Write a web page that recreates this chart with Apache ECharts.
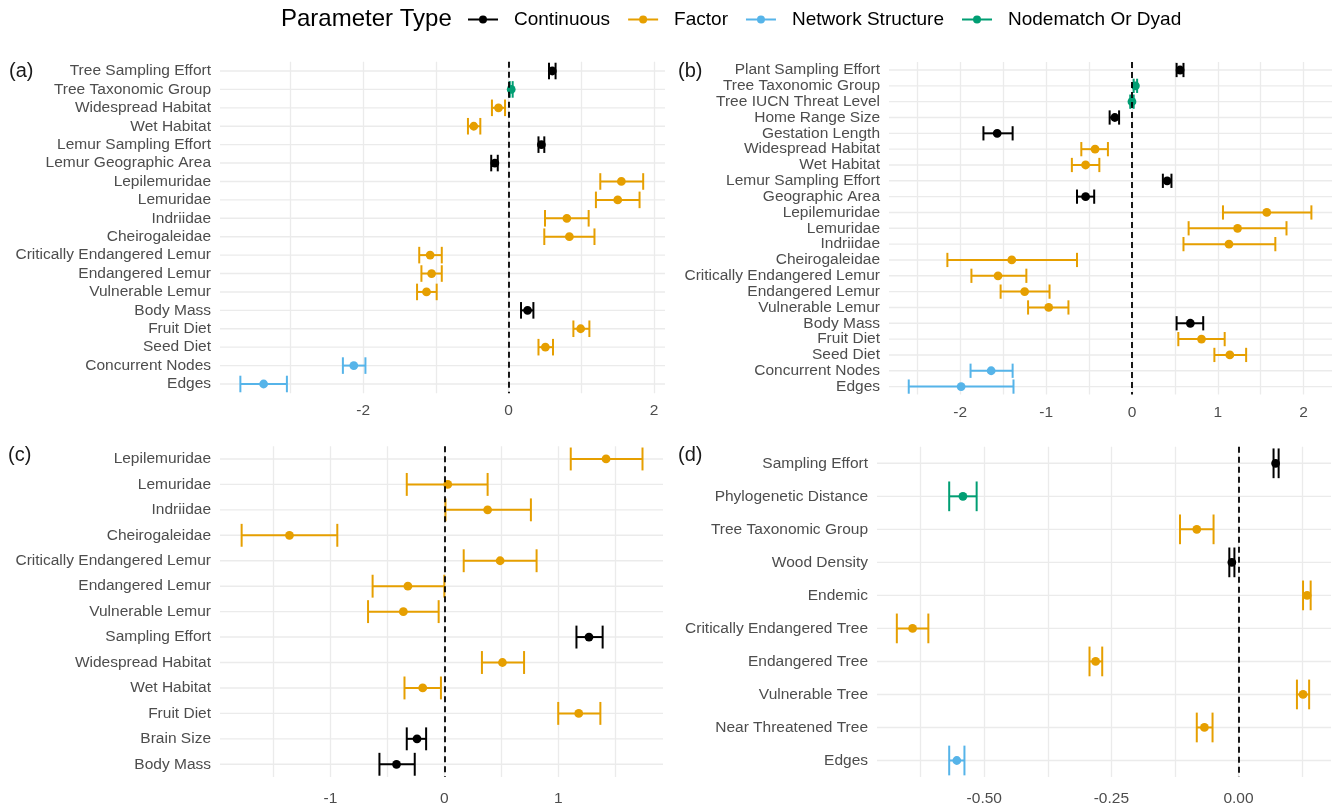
<!DOCTYPE html>
<html>
<head>
<meta charset="utf-8">
<script src="https://cdn.jsdelivr.net/npm/echarts@6/dist/echarts.min.js"></script>
<style>
  html, body { margin: 0; padding: 0; background: #ffffff; }
  #chart { width: 1336px; height: 807px; }
</style>
</head>
<body>
<div id="chart"></div>
<script>
// Parameter types: C = Continuous, F = Factor, S = Network Structure, N = Nodematch Or Dyad
const typeNames = { C: 'Continuous', F: 'Factor', S: 'Network Structure', N: 'Nodematch Or Dyad' };
const typeColors = { C: '#000000', F: '#E69F00', S: '#56B4E9', N: '#009E73' };
const legendOrder = ['C', 'F', 'S', 'N'];

// (a)
const aLabels = ['Tree Sampling Effort', 'Tree Taxonomic Group', 'Widespread Habitat', 'Wet Habitat',
  'Lemur Sampling Effort', 'Lemur Geographic Area', 'Lepilemuridae', 'Lemuridae', 'Indriidae',
  'Cheirogaleidae', 'Critically Endangered Lemur', 'Endangered Lemur', 'Vulnerable Lemur',
  'Body Mass', 'Fruit Diet', 'Seed Diet', 'Concurrent Nodes', 'Edges'];
const aTypes = ['C', 'N', 'F', 'F', 'C', 'C', 'F', 'F', 'F', 'F', 'F', 'F', 'F', 'C', 'F', 'F', 'S', 'S'];
const aEst  = [0.60, 0.035, -0.14, -0.48, 0.45, -0.19, 1.55, 1.50, 0.80, 0.835, -1.08, -1.06, -1.13, 0.26, 0.99, 0.505, -2.13, -3.37];
const aLow  = [0.555, 0.015, -0.23, -0.56, 0.41, -0.24, 1.26, 1.20, 0.50, 0.49, -1.23, -1.20, -1.26, 0.17, 0.89, 0.41, -2.28, -3.69];
const aHigh = [0.645, 0.055, -0.05, -0.39, 0.49, -0.15, 1.85, 1.80, 1.10, 1.18, -0.92, -0.92, -0.99, 0.34, 1.11, 0.61, -1.97, -3.05];
const aTicks = [-2, 0, 2];
const aMinorTicks = [-3, -1, 1];

// (b)
const bLabels = ['Plant Sampling Effort', 'Tree Taxonomic Group', 'Tree IUCN Threat Level', 'Home Range Size',
  'Gestation Length', 'Widespread Habitat', 'Wet Habitat', 'Lemur Sampling Effort', 'Geographic Area',
  'Lepilemuridae', 'Lemuridae', 'Indriidae', 'Cheirogaleidae', 'Critically Endangered Lemur',
  'Endangered Lemur', 'Vulnerable Lemur', 'Body Mass', 'Fruit Diet', 'Seed Diet', 'Concurrent Nodes', 'Edges'];
const bTypes = ['C', 'N', 'N', 'C', 'C', 'F', 'F', 'C', 'C', 'F', 'F', 'F', 'F', 'F', 'F', 'F', 'C', 'F', 'F', 'S', 'S'];
const bEst  = [0.56, 0.04, 0.0, -0.20, -1.57, -0.43, -0.54, 0.41, -0.54, 1.57, 1.23, 1.13, -1.40, -1.56, -1.25, -0.97, 0.68, 0.81, 1.14, -1.64, -1.99];
const bLow  = [0.52, 0.02, -0.02, -0.26, -1.73, -0.59, -0.70, 0.36, -0.64, 1.06, 0.66, 0.60, -2.15, -1.87, -1.53, -1.21, 0.52, 0.54, 0.96, -1.88, -2.60];
const bHigh = [0.60, 0.06, 0.02, -0.15, -1.39, -0.28, -0.38, 0.46, -0.44, 2.09, 1.80, 1.67, -0.64, -1.23, -0.96, -0.74, 0.83, 1.08, 1.33, -1.39, -1.38];
const bTicks = [-2, -1, 0, 1, 2];
const bMinorTicks = [-2.5, -1.5, -0.5, 0.5, 1.5];

// (c)
const cLabels = ['Lepilemuridae', 'Lemuridae', 'Indriidae', 'Cheirogaleidae', 'Critically Endangered Lemur',
  'Endangered Lemur', 'Vulnerable Lemur', 'Sampling Effort', 'Widespread Habitat', 'Wet Habitat',
  'Fruit Diet', 'Brain Size', 'Body Mass'];
const cTypes = ['F', 'F', 'F', 'F', 'F', 'F', 'F', 'C', 'F', 'F', 'F', 'C', 'C'];
const cEst  = [1.42, 0.03, 0.38, -1.36, 0.49, -0.32, -0.36, 1.27, 0.51, -0.19, 1.18, -0.24, -0.42];
const cLow  = [1.11, -0.33, 0.01, -1.78, 0.17, -0.63, -0.67, 1.16, 0.33, -0.35, 1.00, -0.33, -0.57];
const cHigh = [1.74, 0.38, 0.76, -0.94, 0.81, 0.0, -0.05, 1.39, 0.70, -0.03, 1.37, -0.16, -0.26];
const cTicks = [-1, 0, 1];
const cMinorTicks = [-1.5, -0.5, 0.5, 1.5];

// (d)
const dLabels = ['Sampling Effort', 'Phylogenetic Distance', 'Tree Taxonomic Group', 'Wood Density', 'Endemic',
  'Critically Endangered Tree', 'Endangered Tree', 'Vulnerable Tree', 'Near Threatened Tree', 'Edges'];
const dTypes = ['C', 'N', 'F', 'C', 'F', 'F', 'F', 'F', 'F', 'S'];
const dEst  = [0.073, -0.542, -0.082, -0.013, 0.135, -0.641, -0.281, 0.127, -0.067, -0.554];
const dLow  = [0.069, -0.569, -0.115, -0.018, 0.127, -0.672, -0.293, 0.115, -0.082, -0.569];
const dHigh = [0.079, -0.515, -0.049, -0.008, 0.142, -0.610, -0.268, 0.139, -0.051, -0.539];
const dTicks = [-0.5, -0.25, 0];
const dMinorTicks = [-0.625, -0.375, -0.125, 0.125];

const FONT = "'Liberation Sans', Arial, sans-serif";

// Panel layout: plot boxes, x extents and label placement
const panels = [
  { tag: '(a)', labels: aLabels, types: aTypes, est: aEst, low: aLow, high: aHigh, ticks: aTicks, minor: aMinorTicks,
    grid: { left: 220, top: 61.8, width: 445, height: 331.4 }, xMin: -3.97, xMax: 2.15, digits: 0, labelMargin: 10,
    tagPos: { left: 9, top: 61 } },
  { tag: '(b)', labels: bLabels, types: bTypes, est: bEst, low: bLow, high: bHigh, ticks: bTicks, minor: bMinorTicks,
    grid: { left: 889, top: 62.1, width: 443, height: 332.4 }, xMin: -2.83, xMax: 2.33, digits: 0, labelMargin: 10,
    tagPos: { left: 678, top: 61 } },
  { tag: '(c)', labels: cLabels, types: cTypes, est: cEst, low: cLow, high: cHigh, ticks: cTicks, minor: cMinorTicks,
    grid: { left: 220, top: 446.25, width: 443, height: 331.5 }, xMin: -1.97, xMax: 1.92, digits: 0, labelMargin: 14,
    tagPos: { left: 8, top: 445 } },
  { tag: '(d)', labels: dLabels, types: dTypes, est: dEst, low: dLow, high: dHigh, ticks: dTicks, minor: dMinorTicks,
    grid: { left: 877, top: 446.8, width: 454, height: 330.8 }, xMin: -0.711, xMax: 0.182, digits: 2, labelMargin: 14,
    tagPos: { left: 678, top: 445 } }
];

const GRID_COLOR = '#ebebeb';
const TEXT_GREY = '#4d4d4d';

// Point estimate with horizontal interval and end caps
function renderPointRange(params, api) {
  const cat = api.value(1);
  const pEst = api.coord([api.value(0), cat]);
  const pLo = api.coord([api.value(2), cat]);
  const pHi = api.coord([api.value(3), cat]);
  const half = api.size([0, 1])[1] * 0.45;
  const color = api.visual('color');
  const stroke = { stroke: color, lineWidth: 2, fill: null };
  return {
    type: 'group',
    children: [
      { type: 'line', shape: { x1: pLo[0], y1: pLo[1], x2: pHi[0], y2: pHi[1] }, style: stroke },
      { type: 'line', shape: { x1: pLo[0], y1: pLo[1] - half, x2: pLo[0], y2: pLo[1] + half }, style: stroke },
      { type: 'line', shape: { x1: pHi[0], y1: pHi[1] - half, x2: pHi[0], y2: pHi[1] + half }, style: stroke },
      { type: 'circle', shape: { cx: pEst[0], cy: pEst[1], r: 4.4 }, style: { fill: color } }
    ]
  };
}

// Horizontal guide line at each category row
function renderRowLine(params, api) {
  const cs = params.coordSys;
  const y = api.coord([0, api.value(1)])[1];
  return {
    type: 'line',
    shape: { x1: cs.x, y1: y, x2: cs.x + cs.width, y2: y },
    style: { stroke: GRID_COLOR, lineWidth: 1.4 }
  };
}

const grids = [], xAxes = [], yAxes = [], series = [], graphics = [];

panels.forEach((p, gi) => {
  grids.push(Object.assign({ containLabel: false }, p.grid));

  xAxes.push({
    type: 'value', gridIndex: gi, min: p.xMin, max: p.xMax,
    axisLine: { show: false },
    axisTick: { show: false, customValues: p.ticks.concat(p.minor) },
    axisLabel: {
      customValues: p.ticks, margin: p.labelMargin, fontSize: 15.5, color: TEXT_GREY, fontFamily: FONT,
      formatter: v => Number(v).toFixed(p.digits)
    },
    splitLine: { show: true, lineStyle: { color: GRID_COLOR, width: 1.3 } }
  });

  yAxes.push({
    type: 'category', gridIndex: gi, data: p.labels, inverse: true,
    axisLine: { show: false }, axisTick: { show: false }, splitLine: { show: false },
    axisLabel: { interval: 0, margin: 9, fontSize: 15.5, color: TEXT_GREY, fontFamily: FONT }
  });

  // row guides + dashed reference line at zero
  series.push({
    type: 'custom', xAxisIndex: gi, yAxisIndex: gi, silent: true, z: 1,
    data: p.labels.map((l, i) => [0, i]),
    renderItem: renderRowLine,
    markLine: {
      silent: true, symbol: 'none', animation: false,
      label: { show: false },
      lineStyle: { color: '#000000', type: [6, 4], width: 1.8 },
      data: [{ xAxis: 0 }]
    }
  });

  legendOrder.forEach(t => {
    const rows = [];
    p.types.forEach((ty, i) => {
      if (ty === t) rows.push([p.est[i], i, p.low[i], p.high[i]]);
    });
    if (!rows.length) return;
    series.push({
      type: 'custom', name: typeNames[t], xAxisIndex: gi, yAxisIndex: gi, z: 3,
      itemStyle: { color: typeColors[t] },
      encode: { x: [0, 2, 3], y: 1 },
      data: rows,
      renderItem: renderPointRange
    });
  });

  graphics.push({
    type: 'text', left: p.tagPos.left, top: p.tagPos.top,
    style: { text: p.tag, fontSize: 20, fill: '#1a1a1a', fontFamily: FONT }
  });
});

const KEY_PATH = 'path://M0,4H30V6H0Z M11,5A4,4 0 1 1 19,5A4,4 0 1 1 11,5Z';

const chart = echarts.init(document.getElementById('chart'), null, { renderer: 'canvas' });
chart.setOption({
  animation: false,
  backgroundColor: '#ffffff',
  title: {
    text: 'Parameter Type', left: 281, top: 7, padding: 0,
    textStyle: { fontSize: 24, fontWeight: 'normal', color: '#000000', fontFamily: FONT }
  },
  legend: {
    left: 468, top: 10, padding: 0,
    itemWidth: 30, itemHeight: 8, itemGap: 18,
    icon: KEY_PATH,
    data: legendOrder.map(t => typeNames[t]),
    textStyle: { fontSize: 19, color: '#000000', fontFamily: FONT, padding: [0, 0, 0, 11] }
  },
  grid: grids,
  xAxis: xAxes,
  yAxis: yAxes,
  series: series,
  graphic: graphics
});
</script>
</body>
</html>
